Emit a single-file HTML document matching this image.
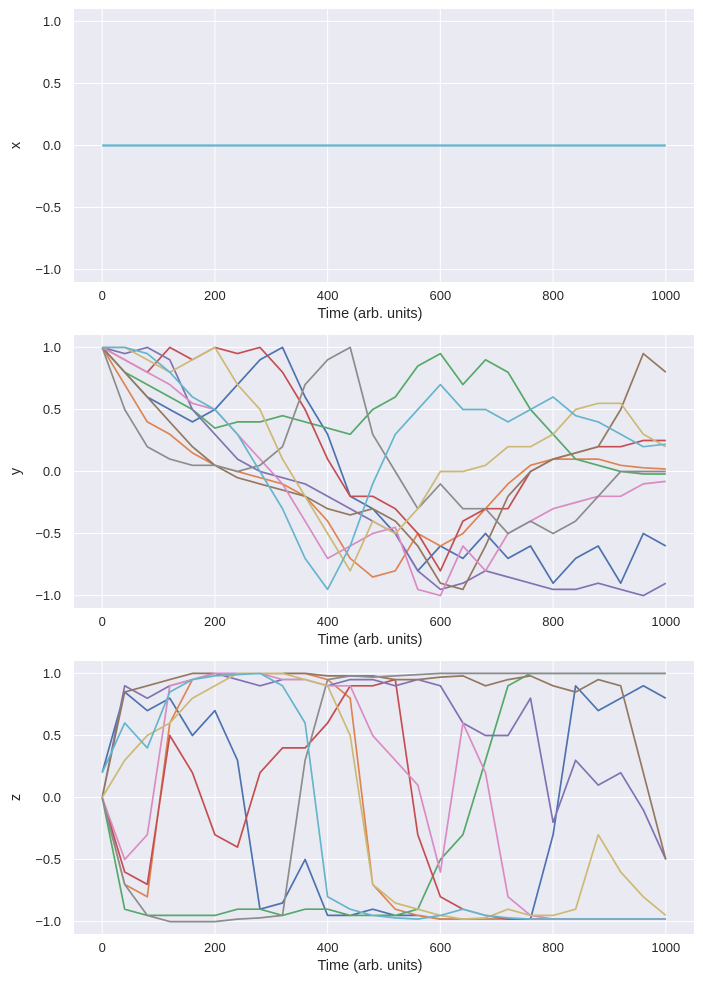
<!DOCTYPE html>
<html><head><meta charset="utf-8">
<style>
html,body{margin:0;padding:0;background:#fff;}
svg{display:block;font-family:"Liberation Sans",Arial,sans-serif;}
</style></head>
<body>
<svg id="chart" width="703" height="991"></svg>
<script>
const times = [0,40,80,120,160,200,240,280,320,360,400,440,480,520,560,600,640,680,720,760,800,840,880,920,960,1000];
const colors = ["#4c72b0","#dd8452","#55a868","#c44e52","#8172b3","#937860","#da8bc3","#8c8c8c","#ccb974","#64b5cd"];
const xTicks = [0,200,400,600,800,1000];
const yTicks = [1.0,0.5,0.0,-0.5,-1.0];
const yTickLabels = ["1.0","0.5","0.0","−0.5","−1.0"];
const panelLabels = ["x","y","z"];
const seriesX = [
 [0,0,0,0,0,0,0,0,0,0,0,0,0,0,0,0,0,0,0,0,0,0,0,0,0,0]
];
const seriesY = [
 [1,0.8,0.6,0.5,0.4,0.5,0.7,0.9,1.0,0.6,0.3,-0.2,-0.3,-0.5,-0.8,-0.6,-0.7,-0.5,-0.7,-0.6,-0.9,-0.7,-0.6,-0.9,-0.5,-0.6],
 [1,0.7,0.4,0.3,0.15,0.05,0.0,-0.05,-0.1,-0.2,-0.4,-0.7,-0.85,-0.8,-0.5,-0.6,-0.5,-0.3,-0.1,0.05,0.1,0.1,0.1,0.05,0.03,0.02],
 [1,0.8,0.7,0.6,0.5,0.35,0.4,0.4,0.45,0.4,0.35,0.3,0.5,0.6,0.85,0.95,0.7,0.9,0.8,0.5,0.3,0.1,0.05,0.0,-0.02,-0.02],
 [1,0.9,0.8,1.0,0.9,1.0,0.95,1.0,0.8,0.5,0.1,-0.2,-0.2,-0.3,-0.5,-0.8,-0.4,-0.3,-0.3,0.0,0.1,0.15,0.2,0.2,0.25,0.25],
 [1,0.95,1.0,0.9,0.5,0.3,0.1,0.0,-0.05,-0.1,-0.2,-0.3,-0.4,-0.5,-0.8,-0.95,-0.9,-0.8,-0.85,-0.9,-0.95,-0.95,-0.9,-0.95,-1.0,-0.9],
 [1,0.8,0.6,0.4,0.2,0.05,-0.05,-0.1,-0.15,-0.2,-0.3,-0.35,-0.3,-0.4,-0.6,-0.9,-0.95,-0.6,-0.2,0.0,0.1,0.15,0.2,0.5,0.95,0.8],
 [1,0.9,0.8,0.7,0.55,0.5,0.3,0.1,-0.1,-0.4,-0.7,-0.6,-0.5,-0.45,-0.95,-1.0,-0.6,-0.8,-0.5,-0.4,-0.3,-0.25,-0.2,-0.2,-0.1,-0.08],
 [1,0.5,0.2,0.1,0.05,0.05,0.0,0.05,0.2,0.7,0.9,1.0,0.3,0.0,-0.3,-0.1,-0.3,-0.3,-0.5,-0.4,-0.5,-0.4,-0.2,0.0,0.0,0.0],
 [1,1.0,0.9,0.8,0.9,1.0,0.7,0.5,0.1,-0.2,-0.5,-0.8,-0.4,-0.5,-0.3,0.0,0.0,0.05,0.2,0.2,0.3,0.5,0.55,0.55,0.3,0.2],
 [1,1.0,0.95,0.8,0.6,0.5,0.3,0.0,-0.3,-0.7,-0.95,-0.6,-0.1,0.3,0.5,0.7,0.5,0.5,0.4,0.5,0.6,0.45,0.4,0.3,0.2,0.22]
];
const seriesZ = [
 [0.2,0.85,0.7,0.8,0.5,0.7,0.3,-0.9,-0.85,-0.5,-0.95,-0.95,-0.9,-0.95,-0.95,-0.98,-0.98,-0.98,-0.98,-0.98,-0.3,0.9,0.7,0.8,0.9,0.8],
 [0,-0.7,-0.8,0.6,0.95,1.0,1.0,1.0,1.0,1.0,0.95,0.8,-0.7,-0.9,-0.95,-0.98,-0.98,-0.98,-0.98,-0.98,-0.98,-0.98,-0.98,-0.98,-0.98,-0.98],
 [0,-0.9,-0.95,-0.95,-0.95,-0.95,-0.9,-0.9,-0.95,-0.9,-0.9,-0.95,-0.95,-0.95,-0.9,-0.5,-0.3,0.3,0.9,1.0,1.0,1.0,1.0,1.0,1.0,1.0],
 [0,-0.6,-0.7,0.5,0.2,-0.3,-0.4,0.2,0.4,0.4,0.6,0.9,0.9,0.95,-0.3,-0.8,-0.9,-0.95,-0.98,-0.98,-0.98,-0.98,-0.98,-0.98,-0.98,-0.98],
 [0,0.9,0.8,0.9,0.95,1.0,0.95,0.9,0.95,0.95,0.9,0.95,0.95,0.9,0.95,0.9,0.6,0.5,0.5,0.8,-0.2,0.3,0.1,0.2,-0.1,-0.5],
 [0,0.85,0.9,0.95,1.0,1.0,1.0,1.0,1.0,1.0,0.98,0.98,0.98,0.95,0.95,0.97,0.98,0.9,0.95,0.98,0.9,0.85,0.95,0.9,0.2,-0.5],
 [0,-0.5,-0.3,0.9,0.95,1.0,1.0,1.0,0.95,0.95,0.9,0.9,0.5,0.3,0.1,-0.6,0.6,0.2,-0.8,-0.95,-0.98,-0.98,-0.98,-0.98,-0.98,-0.98],
 [0,-0.7,-0.95,-1.0,-1.0,-1.0,-0.98,-0.97,-0.95,0.3,0.95,0.98,0.97,0.98,0.99,1.0,1.0,1.0,1.0,1.0,1.0,1.0,1.0,1.0,1.0,1.0],
 [0,0.3,0.5,0.6,0.8,0.9,1.0,1.0,1.0,0.95,0.9,0.5,-0.7,-0.85,-0.9,-0.95,-0.98,-0.97,-0.9,-0.95,-0.95,-0.9,-0.3,-0.6,-0.8,-0.95],
 [0.2,0.6,0.4,0.85,0.95,0.98,0.99,1.0,0.9,0.6,-0.8,-0.9,-0.95,-0.97,-0.98,-0.95,-0.9,-0.95,-0.97,-0.98,-0.98,-0.98,-0.98,-0.98,-0.98,-0.98]
];
const panelData = [seriesX, seriesY, seriesZ];
const panelTops = [9, 335, 661];
const plotH = 273, plotL = 74, plotR = 694;
const NS = "http://www.w3.org/2000/svg";
const svg = document.getElementById("chart");
function xScale(t){ return plotL + (t + 50) / 1100 * (plotR - plotL); }
function mk(tag, attrs, parent){ const e=document.createElementNS(NS,tag); for(const k in attrs) e.setAttribute(k,attrs[k]); parent.appendChild(e); return e; }

panelData.forEach((series, p) => {
  const top = panelTops[p];
  const yScale = v => top + (1.1 - v) / 2.2 * plotH;
  const g = mk("g", {}, svg);
  
  
  const bg = mk("rect", {x:plotL, y:top, width:plotR-plotL, height:plotH, fill:"#eaeaf2"}, g);
  
  
  xTicks.forEach(t => {
    const l = mk("line", {x1:xScale(t), x2:xScale(t), y1:top, y2:top+plotH, stroke:"#fff", "stroke-width":1}, g);
    
    
    const tx = mk("text", {x:xScale(t), y:top+plotH+18, "text-anchor":"middle", "font-size":13, fill:"#262626"}, g);
    tx.textContent = t;
    
    
  });
  yTicks.forEach((v, i) => {
    const l = mk("line", {x1:plotL, x2:plotR, y1:yScale(v), y2:yScale(v), stroke:"#fff", "stroke-width":1}, g);
    
    
    const tx = mk("text", {x:plotL-13, y:yScale(v)+4.5, "text-anchor":"end", "font-size":13, fill:"#262626"}, g);
    tx.textContent = yTickLabels[i];
    
    
  });
  series.forEach((vals, s) => {
    const d = vals.map((v, i) => (i ? "L" : "M") + xScale(times[i]).toFixed(1) + "," + yScale(v).toFixed(1)).join(" ");
    const color = series.length === 1 ? colors[9] : colors[s];
    const path = mk("path", {d:d, fill:"none", stroke:color, "stroke-width":(series.length === 1 ? 2.2 : 1.7), "stroke-linejoin":"round"}, g);
    
    
  });
  const xl = mk("text", {x:(plotL+plotR)/2 - 14, y:top+plotH+36, "text-anchor":"middle", "font-size":14.5, fill:"#262626"}, g);
  xl.textContent = "Time (arb. units)";
  
  
  const yl = mk("text", {x:20, y:top+plotH/2, "text-anchor":"middle", "font-size":14.5, fill:"#262626", transform:"rotate(-90 20 "+(top+plotH/2)+")"}, g);
  yl.textContent = panelLabels[p];
  
  
});
</script>
</body></html>
